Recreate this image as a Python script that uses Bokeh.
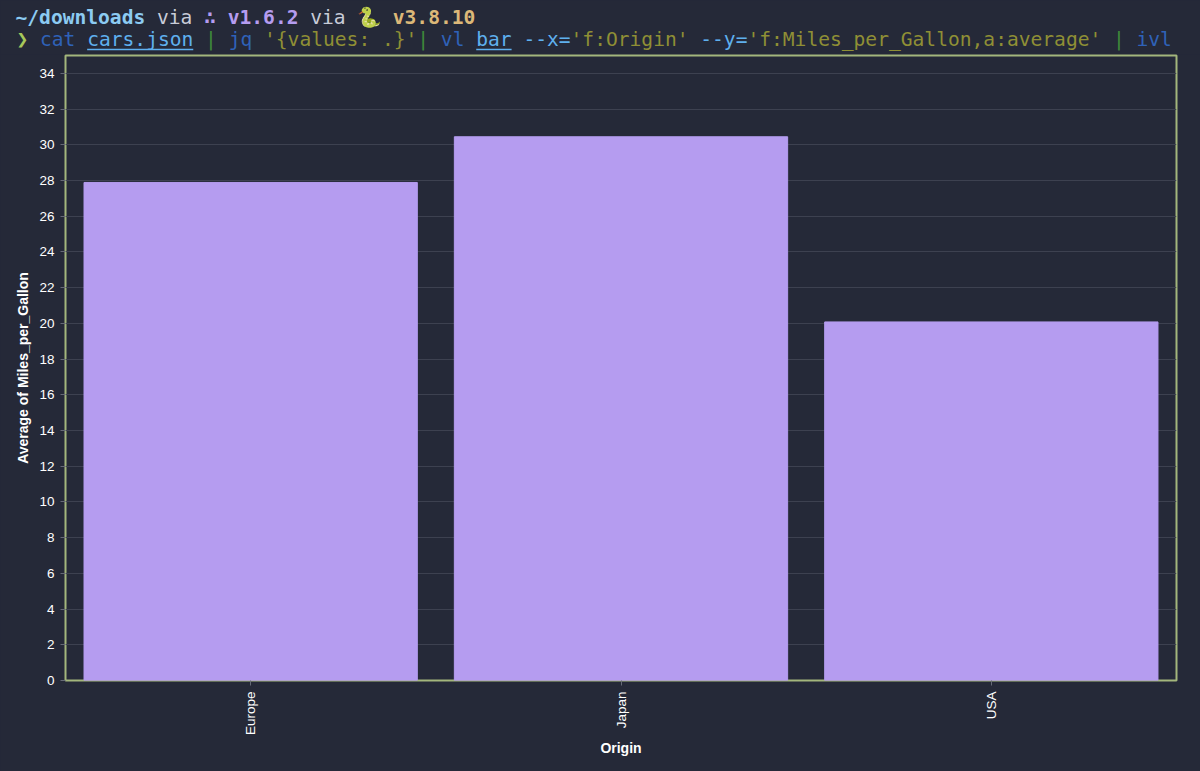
from bokeh.plotting import figure
from bokeh.layouts import column
from bokeh.models import FactorRange, Range1d, FixedTicker
from bokeh.core.properties import value
from bokeh.embed import file_html
from bokeh.resources import INLINE
import math

origins = ["Europe", "Japan", "USA"]
avg_mpg = [27.89, 30.45, 20.08]
y_ticks = list(range(0, 36, 2))
BG = "#252938"

line1 = [("~/downloads", "#8ccbf2", "bold", 0), ("via", "#c8ccd8", "normal", 12),
         ("∴", "#b59cf0", "bold", 16), ("v1.6.2", "#b59cf0", "bold", 18), ("via", "#c8ccd8", "normal", 25),
         ("🐍", "#b5c46a", "normal", 29), ("v3.8.10", "#dcb878", "bold", 32)]
line2 = [("❯", "#a6c75a", "bold", -2), ("cat", "#2f62b8", "normal", 0), ("cars.json", "#5fb0ee", "normal", 4),
         ("|", "#3f8a3a", "normal", 14), ("jq", "#2f62b8", "normal", 16), ("'{values: .}'", "#8f8f35", "normal", 19),
         ("|", "#3f8a3a", "normal", 32), ("vl", "#2f62b8", "normal", 34), ("bar", "#5fb0ee", "normal", 37),
         ("--x=", "#5fb0ee", "normal", 41), ("'f:Origin'", "#8f8f35", "normal", 45), ("--y=", "#5fb0ee", "normal", 56),
         ("'f:Miles_per_Gallon,a:average'", "#8f8f35", "normal", 60), ("|", "#3f8a3a", "normal", 91),
         ("ivl", "#2f62b8", "normal", 93)]
underlined = ["cars.json", "bar"]

head = figure(width=1200, height=54, output_backend="svg", toolbar_location=None,
              x_range=Range1d(0, 1200), y_range=Range1d(54, 0),
              min_border_left=0, min_border_right=0, min_border_top=0, min_border_bottom=0,
              background_fill_color=BG, border_fill_color=BG, outline_line_color=None,
              frame_align=False)
head.axis.visible = False
head.grid.visible = False

CW = 11.79
def add_line(segments, x0, y):
    for txt, col, style, col_idx in segments:
        x = x0 + col_idx * CW
        head.text(x=[x], y=[y], text=[txt], text_color=col,
                  text_font=value("DejaVu Sans Mono"), text_font_style=style,
                  text_font_size="19.6px", text_baseline="middle")
        if txt in underlined:
            head.segment(x0=[x], y0=[y + 10], x1=[x + len(txt) * CW], y1=[y + 10],
                         line_color=col, line_width=1.5)

add_line(line1, 15, 17)
add_line(line2, 39.5, 39)

p = figure(width=1200, height=717, output_backend="svg", toolbar_location=None,
           x_range=FactorRange(*origins, factor_padding=0, range_padding=0),
           y_range=Range1d(0, 35), min_border_left=65, min_border_right=24,
           min_border_top=1, min_border_bottom=91,
           background_fill_color=BG, border_fill_color=BG,
           outline_line_color="#a3b67c", outline_line_width=2, frame_align=False)
p.vbar(x=origins, top=avg_mpg, width=0.9, fill_color="#b59cf0", line_color="#b59cf0")

p.yaxis.ticker = FixedTicker(ticks=y_ticks)
p.ygrid.ticker = FixedTicker(ticks=y_ticks)
p.xgrid.visible = False
p.ygrid.grid_line_color = "#3d4150"
p.ygrid.grid_line_width = 1
for ax in (p.xaxis[0], p.yaxis[0]):
    ax.axis_line_color = None
    ax.major_tick_line_color = "#666a76"
    ax.minor_tick_line_color = None
    ax.major_tick_in = 0
    ax.major_tick_out = 5
    ax.major_label_text_color = "#ffffff"
    ax.major_label_text_font = "Liberation Sans"
    ax.major_label_text_font_size = "13.5px"
    ax.axis_label_text_color = "#ffffff"
    ax.axis_label_text_font = "Liberation Sans"
    ax.axis_label_text_font_style = "bold"
    ax.axis_label_text_font_size = "14px"
p.xaxis.axis_label = "Origin"
p.yaxis.axis_label = "Average of Miles_per_Gallon"
p.xaxis.major_label_orientation = math.pi / 2
p.xaxis.major_label_standoff = 6
p.xaxis.axis_label_standoff = 2
p.yaxis.major_label_standoff = 6
p.yaxis.axis_label_standoff = 5

layout = column(head, p, spacing=0)
html = file_html(layout, INLINE).replace("<head>", "<head><style>html,body{background:%s}</style>" % BG, 1)
open("out.html", "w").write(html)
